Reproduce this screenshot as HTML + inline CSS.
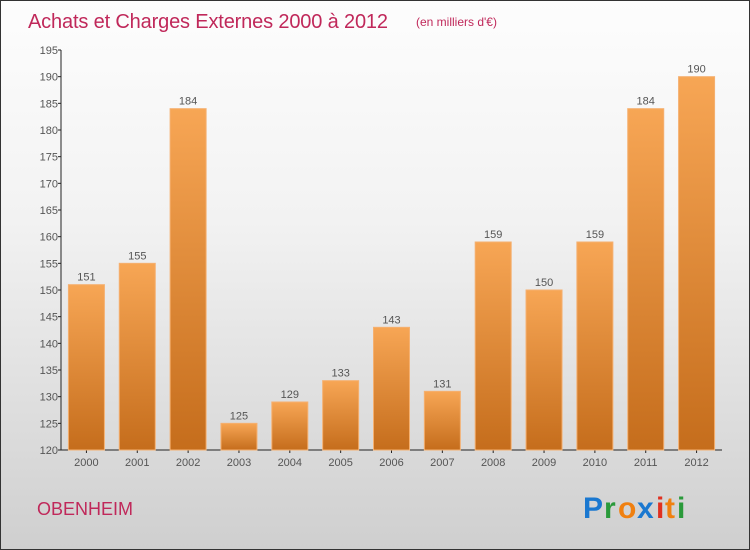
<!DOCTYPE html>
<html><head><meta charset="utf-8"><style>
body{margin:0}
#c{width:748px;height:548px;border:1px solid #333;background:linear-gradient(#fdfdfd,#f2f2f2 40%,#cfcfcf);position:relative;overflow:hidden;font-family:"Liberation Sans",sans-serif}
</style></head><body>
<div id="c">
<svg width="748" height="548" id="s">
<defs><linearGradient id="g" x1="0" y1="0" x2="0" y2="1"><stop offset="0" stop-color="#f7a655"/><stop offset="1" stop-color="#c56d1c"/></linearGradient></defs>
<text x="27" y="27" font-size="20" fill="#c0285a" textLength="360">Achats et Charges Externes 2000 à 2012</text>
<text x="415" y="25" font-size="12" fill="#c0285a">(en milliers d'€)</text>
<text x="36" y="514" font-size="18" fill="#c0285a">OBENHEIM</text>
<g font-size="30" font-weight="bold" font-family="Liberation Sans,sans-serif">
<text x="582" y="517" fill="#1a78d0">P</text><text x="603" y="517" fill="#2a9a3a">r</text><text x="617" y="517" fill="#f08010">o</text><text x="636" y="517" fill="#1a78d0">x</text><text x="655" y="517" fill="#e03020">i</text><text x="664" y="517" fill="#f08010">t</text><text x="676" y="517" fill="#2a9a3a">i</text></g>
<g id="ax"></g><g id="bars"></g>
</svg></div>
<script>
const years=["2000","2001","2002","2003","2004","2005","2006","2007","2008","2009","2010","2011","2012"];
const values=[151,155,184,125,129,133,143,131,159,150,159,184,190];
const ticks=[120,125,130,135,140,145,150,155,160,165,170,175,180,185,190,195];
const x0=60,x1=721,y0=449,y1=49,vmin=120,vmax=195;
const y=v=>y0-(v-vmin)/(vmax-vmin)*(y0-y1);
const bw=(x1-x0)/years.length;
const NS="http://www.w3.org/2000/svg";
function mk(t,a,p){const e=document.createElementNS(NS,t);for(const k in a)e.setAttribute(k,a[k]);p.appendChild(e);return e;}
const ax=document.getElementById('ax'),bars=document.getElementById('bars');
let l=mk('line',{x1:x0,x2:x0,y1:y1,y2:y0,stroke:'#222'},ax);


l=mk('line',{x1:x0,x2:x1,y1:y0,y2:y0,stroke:'#222'},ax);


ticks.forEach(t=>{
 mk('line',{x1:x0-3,x2:x0,y1:y(t),y2:y(t),stroke:'#222'},ax);
 const e=mk('text',{x:x0-3,y:y(t)+4,'font-size':11,fill:'#555','text-anchor':'end'},ax);e.textContent=t;
 
 
});
years.forEach((yr,i)=>{
 const cx=x0+bw*(i+0.5);
 const r=mk('rect',{x:cx-18,y:y(values[i]),width:36,height:y0-y(values[i]),fill:'url(#g)',stroke:'#f5b070','stroke-width':1},bars);
 
 
 const v=mk('text',{x:cx,y:y(values[i])-4,'font-size':11,fill:'#555','text-anchor':'middle'},bars);v.textContent=values[i];
 
 
 mk('line',{x1:cx,x2:cx,y1:y0,y2:y0+3,stroke:'#222'},ax);
 const t=mk('text',{x:cx,y:y0+16,'font-size':11,fill:'#555','text-anchor':'middle'},ax);t.textContent=yr;
 
 
});
</script>
</body></html>
